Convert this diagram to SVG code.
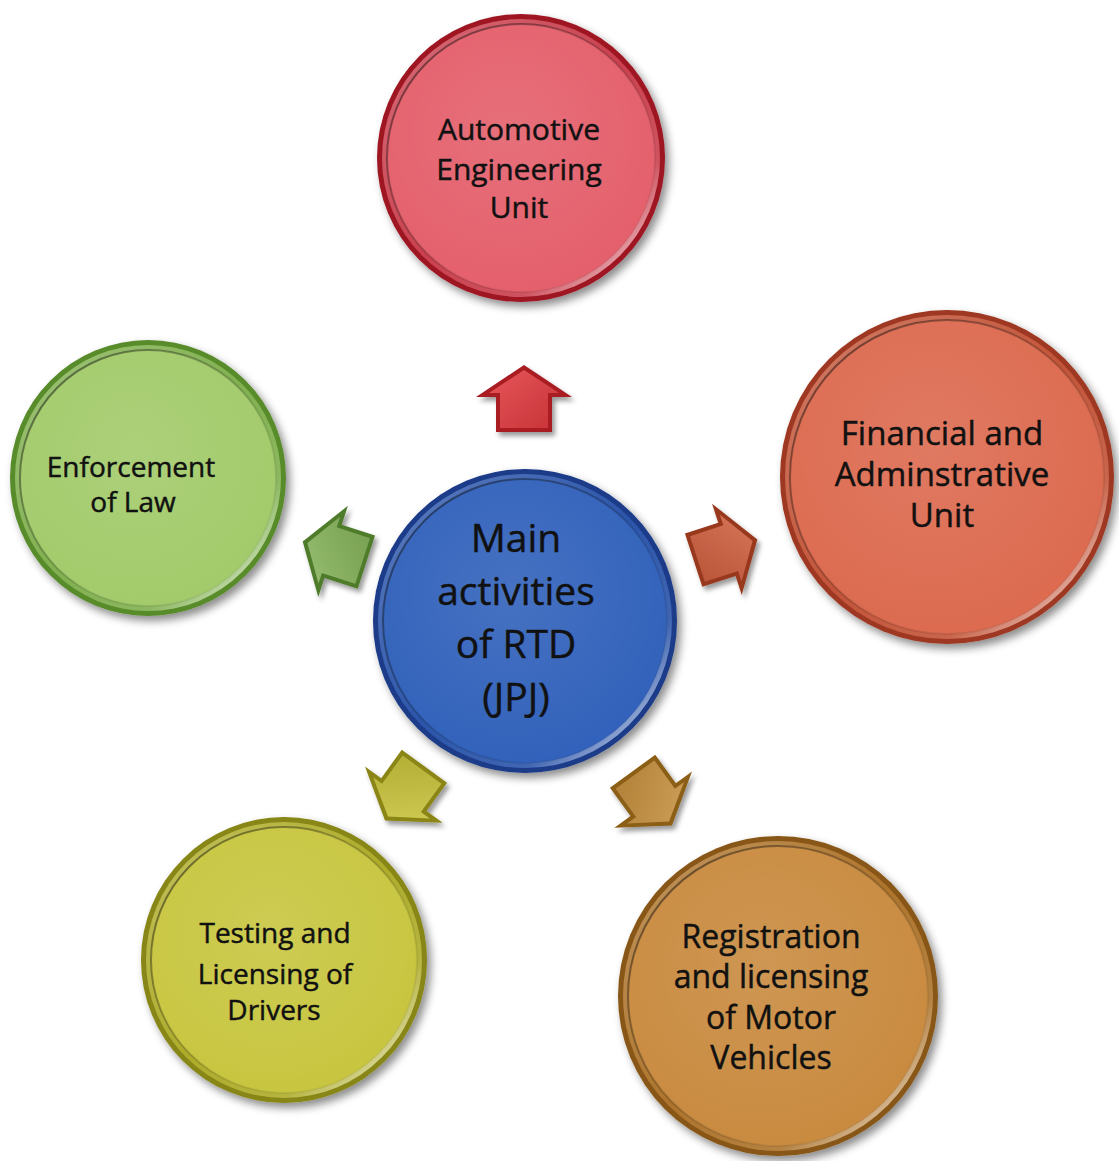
<svg xmlns="http://www.w3.org/2000/svg" width="1119" height="1161" viewBox="0 0 1119 1161">
  <defs>
    <style>
      .lbl{font-family:"Open Sans","Noto Sans","Liberation Sans",sans-serif;font-size:30px;fill:#111;stroke:#111;stroke-width:0.45px;text-anchor:middle}
      .big{font-size:39px}
    </style>
    <!-- soft shadow cast to the lower right -->
    <filter id="shadow" x="-20%" y="-20%" width="150%" height="150%">
      <feDropShadow dx="4" dy="5" stdDeviation="4" flood-color="#000" flood-opacity="0.45"/>
    </filter>
    <filter id="arrowShadow" x="-30%" y="-30%" width="170%" height="170%">
      <feDropShadow dx="3" dy="4" stdDeviation="2.5" flood-color="#000" flood-opacity="0.4"/>
    </filter>
    <!-- bevel: highlight on the lower-right edge -->
    <linearGradient id="bevelHi" x1="0" y1="0" x2="1" y2="1">
      <stop offset="0" stop-color="#fff" stop-opacity="0.25"/>
      <stop offset="0.5" stop-color="#fff" stop-opacity="0"/>
      <stop offset="0.75" stop-color="#fff" stop-opacity="0.1"/>
      <stop offset="1" stop-color="#fff" stop-opacity="0.95"/>
    </linearGradient>
    <linearGradient id="innerEdge" x1="0" y1="0" x2="1" y2="1">
      <stop offset="0" stop-color="#000" stop-opacity="0.55"/>
      <stop offset="0.6" stop-color="#000" stop-opacity="0.12"/>
      <stop offset="1" stop-color="#000" stop-opacity="0"/>
    </linearGradient>
    <radialGradient id="sheen" cx="0.45" cy="0.4" r="0.6">
      <stop offset="0" stop-color="#fff" stop-opacity="0.1"/>
      <stop offset="1" stop-color="#fff" stop-opacity="0"/>
    </radialGradient>
    <linearGradient id="arrowHi" x1="0" y1="0" x2="1" y2="1">
      <stop offset="0" stop-color="#fff" stop-opacity="0.15"/>
      <stop offset="1" stop-color="#000" stop-opacity="0.12"/>
    </linearGradient>
    <!-- block arrow, centred on the origin, pointing up -->
    <path id="arrowOuter" d="M0,-34 L48,-2 L28,-2 L28,33 L-28,33 L-28,-2 L-48,-2 Z"/>
    <path id="arrowInner" d="M0,-29 L35,-6 L24,-6 L24,29 L-24,29 L-24,-6 L-35,-6 Z"/>
  </defs>

  <rect width="1119" height="1161" fill="#ffffff"/>

  <!-- connectors: arrows radiating from the centre -->
  <g id="connectors">
    <g filter="url(#arrowShadow)">
      <g transform="translate(524,399)">
        <use href="#arrowOuter" fill="#a81d24"/>
        <use href="#arrowInner" fill="#e43b40"/>
        <use href="#arrowInner" fill="url(#arrowHi)"/>
      </g>
    </g>
    <g filter="url(#arrowShadow)">
      <g transform="translate(725,550) rotate(72)">
        <use href="#arrowOuter" fill="#98371f"/>
        <use href="#arrowInner" fill="#d2603f"/>
        <use href="#arrowInner" fill="url(#arrowHi)"/>
      </g>
    </g>
    <g filter="url(#arrowShadow)">
      <g transform="translate(652,798) rotate(144)">
        <use href="#arrowOuter" fill="#8c5e19"/>
        <use href="#arrowInner" fill="#c9923f"/>
        <use href="#arrowInner" fill="url(#arrowHi)"/>
      </g>
    </g>
    <g filter="url(#arrowShadow)">
      <g transform="translate(405,793) rotate(216)">
        <use href="#arrowOuter" fill="#8a8512"/>
        <use href="#arrowInner" fill="#cbc63b"/>
        <use href="#arrowInner" fill="url(#arrowHi)"/>
      </g>
    </g>
    <g filter="url(#arrowShadow)">
      <g transform="translate(335,552) rotate(288)">
        <use href="#arrowOuter" fill="#4f7c2b"/>
        <use href="#arrowInner" fill="#88b65b"/>
        <use href="#arrowInner" fill="url(#arrowHi)"/>
      </g>
    </g>
  </g>

  <!-- centre node -->
  <g id="node-main">
    <circle cx="525" cy="621" r="152" fill="#1a3a88" filter="url(#shadow)"/>
    <circle cx="525" cy="621" r="147" fill="#2b55aa"/>
    <circle cx="525" cy="621" r="147" fill="url(#bevelHi)"/>
    <circle cx="525" cy="621" r="142" fill="#3262bb" stroke="url(#innerEdge)" stroke-width="2"/>
    <circle cx="525" cy="621" r="142" fill="url(#sheen)"/>
    <text class="lbl big" x="516" y="552">Main</text>
    <text class="lbl big" x="516" y="605">activities</text>
    <text class="lbl big" x="516" y="658">of RTD</text>
    <text class="lbl big" x="516" y="711">(JPJ)</text>
  </g>

  <g id="node-automotive">
    <circle cx="521" cy="158" r="144" fill="#9e1424" filter="url(#shadow)"/>
    <circle cx="521" cy="158" r="139" fill="#c9404e"/>
    <circle cx="521" cy="158" r="139" fill="url(#bevelHi)"/>
    <circle cx="521" cy="158" r="134" fill="#e4606c" stroke="url(#innerEdge)" stroke-width="2"/>
    <circle cx="521" cy="158" r="134" fill="url(#sheen)"/>
    <text class="lbl" x="519" y="140">Automotive</text>
    <text class="lbl" x="519" y="180">Engineering</text>
    <text class="lbl" x="519" y="218">Unit</text>
  </g>

  <g id="node-financial">
    <circle cx="947" cy="477" r="167" fill="#9e3820" filter="url(#shadow)"/>
    <circle cx="947" cy="477" r="162" fill="#c25438"/>
    <circle cx="947" cy="477" r="162" fill="url(#bevelHi)"/>
    <circle cx="947" cy="477" r="157" fill="#dc6b50" stroke="url(#innerEdge)" stroke-width="2"/>
    <circle cx="947" cy="477" r="157" fill="url(#sheen)"/>
    <text class="lbl" x="942" y="445" style="font-size:33px">Financial and</text>
    <text class="lbl" x="942" y="486" style="font-size:33px">Adminstrative</text>
    <text class="lbl" x="942" y="527" style="font-size:33px">Unit</text>
  </g>

  <g id="node-enforcement">
    <circle cx="148" cy="478" r="138" fill="#588b2b" filter="url(#shadow)"/>
    <circle cx="148" cy="478" r="133" fill="#80b04f"/>
    <circle cx="148" cy="478" r="133" fill="url(#bevelHi)"/>
    <circle cx="148" cy="478" r="128" fill="#a3cb6b" stroke="url(#innerEdge)" stroke-width="2"/>
    <circle cx="148" cy="478" r="128" fill="url(#sheen)"/>
    <text class="lbl" x="131" y="477" style="font-size:28px">Enforcement</text>
    <text class="lbl" x="133" y="512" style="font-size:28px">of Law</text>
  </g>

  <g id="node-testing">
    <circle cx="284" cy="960" r="143" fill="#878614" filter="url(#shadow)"/>
    <circle cx="284" cy="960" r="138" fill="#aeac2a"/>
    <circle cx="284" cy="960" r="138" fill="url(#bevelHi)"/>
    <circle cx="284" cy="960" r="133" fill="#c8c640" stroke="url(#innerEdge)" stroke-width="2"/>
    <circle cx="284" cy="960" r="133" fill="url(#sheen)"/>
    <text class="lbl" x="275" y="943" style="font-size:28px">Testing and</text>
    <text class="lbl" x="275" y="984" style="font-size:28px">Licensing of</text>
    <text class="lbl" x="274" y="1020" style="font-size:28px">Drivers</text>
  </g>

  <g id="node-registration">
    <circle cx="778" cy="996" r="160" fill="#885716" filter="url(#shadow)"/>
    <circle cx="778" cy="996" r="155" fill="#ad742c"/>
    <circle cx="778" cy="996" r="155" fill="url(#bevelHi)"/>
    <circle cx="778" cy="996" r="150" fill="#c98b40" stroke="url(#innerEdge)" stroke-width="2"/>
    <circle cx="778" cy="996" r="150" fill="url(#sheen)"/>
    <text class="lbl" x="771" y="948" style="font-size:32px">Registration</text>
    <text class="lbl" x="771" y="988" style="font-size:32px">and licensing</text>
    <text class="lbl" x="771" y="1029" style="font-size:32px">of Motor</text>
    <text class="lbl" x="771" y="1069" style="font-size:32px">Vehicles</text>
  </g>
</svg>
